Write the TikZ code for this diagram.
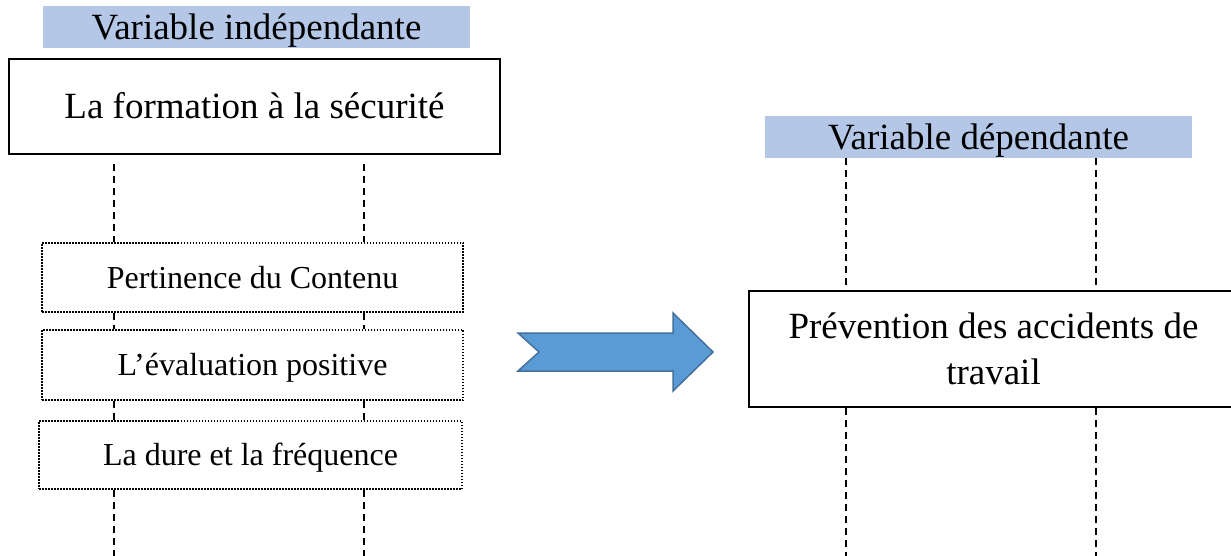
\documentclass[tikz,border=0pt]{standalone}
\usepackage{fontspec}
\setmainfont{Liberation Serif}
\definecolor{varblue}{HTML}{B4C7E7}
\definecolor{arrowfill}{HTML}{5B9BD5}
\definecolor{arrowedge}{HTML}{41719C}
\begin{document}
\begin{tikzpicture}[x=1pt,y=-1pt,
  bigtext/.style={font=\fontsize{37}{46}\selectfont},
  varlabel/.style={bigtext, fill=varblue, inner sep=0pt, text height=33pt, text depth=8pt},
  mainbox/.style={bigtext, draw=black, line width=2.2pt, fill=white, inner sep=0pt},
  subbox/.style={font=\fontsize{32}{38}\selectfont, draw=black, line width=2pt,
     dash pattern=on 1.5pt off 1.5pt, fill=white, inner sep=0pt, text height=28pt, text depth=7pt},
  link/.style={draw=black, line width=1.6pt, dash pattern=on 7pt off 5pt},
  bigarrow/.style={fill=arrowfill, draw=arrowedge, line width=1.5pt, line join=miter}
]
\useasboundingbox (0,0) rectangle (1231,556);
\fill[white] (0,0) rectangle (1231,556);

% named x positions of the dashed guides and bottom edge
\coordinate (xl) at (114,0);
\coordinate (xr) at (364,0);
\coordinate (xl2) at (846,0);
\coordinate (xr2) at (1096,0);
\coordinate (bot) at (0,556);

% left column
\node[varlabel, minimum width=427pt, minimum height=42pt] (vi) at (256.5,27) {Variable indépendante};
\node[mainbox, minimum width=491pt, minimum height=95pt, text height=33pt, text depth=8pt] (f) at (254.5,106.5) {La formation à la sécurité};
\node[subbox, minimum width=421pt, minimum height=69pt] (p1) at (252.5,277.5) {Pertinence du Contenu};
\node[subbox, minimum width=421pt, minimum height=70pt] (p2) at (252.5,365) {L’évaluation positive};
\node[subbox, minimum width=423pt, minimum height=68pt] (p3) at (250.5,455) {La dure et la fréquence};

\draw[link, shorten <=9pt] (f.south -| xl) -- (p1.north -| xl);
\draw[link, shorten <=9pt] (f.south -| xr) -- (p1.north -| xr);
\draw[link] (p1.south -| xl) -- (p2.north -| xl);
\draw[link] (p1.south -| xr) -- (p2.north -| xr);
\draw[link] (p2.south -| xl) -- (p3.north -| xl);
\draw[link] (p2.south -| xr) -- (p3.north -| xr);
\draw[link] (p3.south -| xl) -- (bot -| xl);
\draw[link] (p3.south -| xr) -- (bot -| xr);

% right column
\node[varlabel, minimum width=427pt, minimum height=42pt] (vd) at (978.5,137) {Variable dépendante};
\node[mainbox, minimum width=489pt, minimum height=116pt, align=center] (pv) at (993.5,349) {Prévention des accidents de\\travail};

\draw[link] (vd.south -| xl2) -- (pv.north -| xl2);
\draw[link] (vd.south -| xr2) -- (pv.north -| xr2);
\draw[link] (pv.south -| xl2) -- (bot -| xl2);
\draw[link] (pv.south -| xr2) -- (bot -| xr2);

% block arrow
\path[bigarrow] (518,333) -- (673,333) -- (673,313) -- (713,352) -- (673,391)
   -- (673,371) -- (518,371) -- (539,352) -- cycle;
\end{tikzpicture}
\end{document}
